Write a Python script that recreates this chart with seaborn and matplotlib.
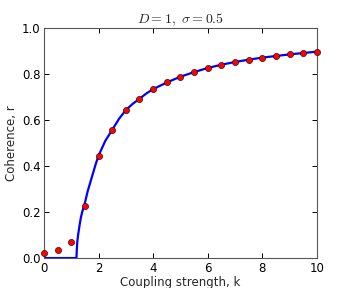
import numpy as np
import pandas as pd
import seaborn as sns
import matplotlib
matplotlib.use('Agg')
import matplotlib.pyplot as plt

# simulation points
k_sim = [0, 0.5, 1, 1.5, 2, 2.5, 3, 3.5, 4, 4.5, 5, 5.5, 6, 6.5, 7, 7.5, 8, 8.5, 9, 9.5, 10]
r_sim = [0.023, 0.033, 0.068, 0.228, 0.445, 0.557, 0.643, 0.692, 0.734, 0.763, 0.788,
         0.808, 0.827, 0.840, 0.852, 0.861, 0.871, 0.878, 0.885, 0.891, 0.897]

# theory curve
k_th = [0, 1.19, 1.2, 1.22, 1.25, 1.3, 1.35, 1.4, 1.45, 1.5, 1.6, 1.7, 1.8, 1.9, 2.0,
        2.25, 2.5, 2.75, 3, 3.25, 3.5, 3.75, 4, 4.5, 5, 5.5, 6, 6.5, 7, 7.5, 8, 8.5, 9, 9.5, 10]
r_th = [0, 0, 0.03, 0.07, 0.10, 0.14, 0.175, 0.20, 0.22, 0.24, 0.29, 0.33, 0.37, 0.41, 0.445,
        0.51, 0.557, 0.605, 0.643, 0.67, 0.692, 0.715, 0.734, 0.763, 0.788, 0.808, 0.826,
        0.840, 0.852, 0.862, 0.871, 0.878, 0.885, 0.891, 0.897]

sns.set_style('ticks', {'xtick.direction': 'in', 'ytick.direction': 'in'})
plt.rcParams['font.family'] = ['DejaVu Sans']
plt.rcParams['mathtext.fontset'] = 'cm'

theory = pd.DataFrame({'k': k_th, 'r': r_th})
sim = pd.DataFrame({'k': k_sim, 'r': r_sim})

fig, ax = plt.subplots(figsize=(3.52, 2.88), dpi=100)
fig.subplots_adjust(left=0.125, right=0.9, bottom=0.104, top=0.903)

sns.lineplot(data=theory, x='k', y='r', ax=ax, color='#0000ff', linewidth=1.6, sort=False)
sns.scatterplot(data=sim, x='k', y='r', ax=ax, color='#ff0000', edgecolor='black',
                linewidth=0.4, s=20, zorder=3, clip_on=False)

ax.set_xlim(0, 10)
ax.set_ylim(0, 1.0)
ax.set_xticks([0, 2, 4, 6, 8, 10])
ax.set_yticks([0.0, 0.2, 0.4, 0.6, 0.8, 1.0])
ax.tick_params(axis='both', which='both', top=True, right=True, direction='in',
               length=3.5, width=0.7, labelsize=8.5, colors='black', pad=2.5)
for sp in ax.spines.values():
    sp.set_color('#555555')
    sp.set_linewidth(0.8)

ax.set_xlabel('Coupling strength, k', fontsize=8.5, labelpad=1)
ax.set_ylabel('Coherence, r', fontsize=8.5, labelpad=3)
ax.set_title(r'$D=1,\ \sigma=0.5$', fontsize=10, pad=2)

fig.savefig('out.png', dpi=100)
